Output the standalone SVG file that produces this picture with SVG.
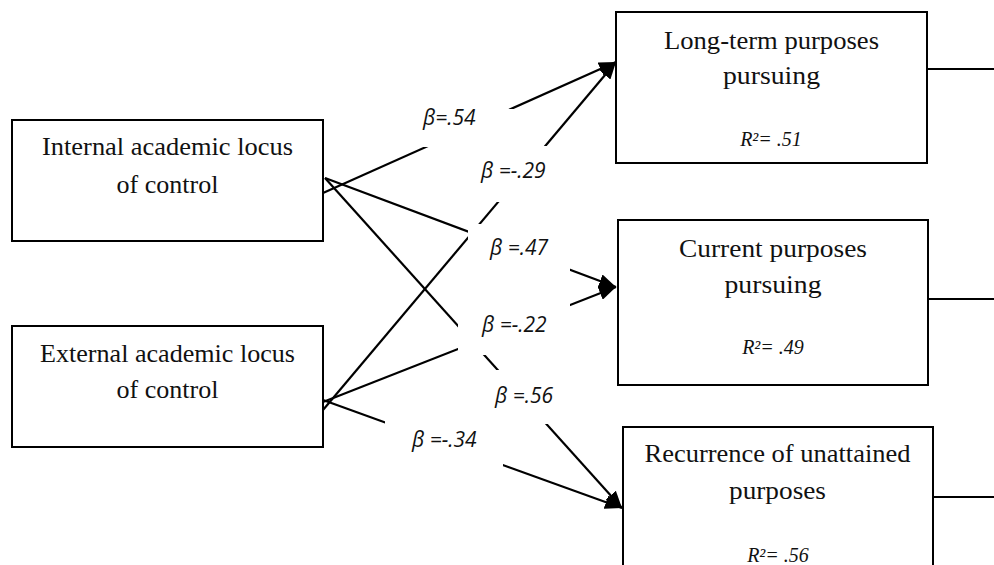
<svg xmlns="http://www.w3.org/2000/svg" width="994" height="565" viewBox="0 0 994 565">
<defs>
<marker id="arr" markerUnits="userSpaceOnUse" markerWidth="18" markerHeight="14" refX="17" refY="7" orient="auto">
<path d="M0,0 L17,7 L0,14 Z" fill="#000"/>
</marker>
<style>
.box{fill:#fff;stroke:#000;stroke-width:2}
.t{font-family:"Liberation Serif","Times New Roman",serif;font-size:25.5px;fill:#111;text-anchor:middle}
.r{font-family:"Liberation Serif","Times New Roman",serif;font-size:20px;font-style:italic;fill:#111;text-anchor:middle}
.c{stroke:#000;stroke-width:2.2;fill:none}
.a{marker-end:url(#arr)}
.lb{fill:#fff;stroke:none}
.b{font-family:"Open Sans","Noto Sans",sans-serif;font-size:21px;font-style:italic;fill:#111}
</style>
</defs>
<rect width="994" height="565" fill="#fff"/>

<g id="connectors">
<line class="c a" x1="323" y1="193" x2="616" y2="62"/>
<line class="c a" x1="323" y1="410" x2="616" y2="62"/>
<line class="c a" x1="325" y1="178" x2="616" y2="287"/>
<line class="c a" x1="323" y1="402" x2="616" y2="287"/>
<line class="c a" x1="325" y1="178" x2="622" y2="508"/>
<line class="c a" x1="323" y1="400" x2="622" y2="508"/>
<line class="c" x1="927" y1="69" x2="994" y2="69"/>
<line class="c" x1="928" y1="299" x2="994" y2="299"/>
<line class="c" x1="933" y1="497" x2="994" y2="497"/>
</g>

<g id="labels">
<g id="label-b54"><rect class="lb" x="410" y="109" width="110" height="38"/><text class="b" x="423" y="125">β=.54</text></g>
<g id="label-b29"><rect class="lb" x="470" y="146" width="90" height="56"/><text class="b" x="481" y="178">β =-.29</text></g>
<g id="label-b47"><rect class="lb" x="468" y="224" width="102" height="48"/><text class="b" x="490" y="255">β =.47</text></g>
<g id="label-b22"><rect class="lb" x="458" y="300" width="112" height="55"/><text class="b" x="482" y="332">β =-.22</text></g>
<g id="label-b56"><rect class="lb" x="485" y="370" width="115" height="54"/><text class="b" x="495" y="403">β =.56</text></g>
<g id="label-b34"><rect class="lb" x="385" y="420" width="118" height="48"/><text class="b" x="412" y="447">β =-.34</text></g>
</g>

<g id="internal">
<rect class="box" x="12" y="120" width="311" height="121"/>
<text class="t" x="167.5" y="155" textLength="251" lengthAdjust="spacingAndGlyphs">Internal academic locus</text>
<text class="t" x="167.5" y="193" textLength="102" lengthAdjust="spacingAndGlyphs">of control</text>
</g>

<g id="external">
<rect class="box" x="12" y="326" width="311" height="121"/>
<text class="t" x="167.5" y="362" textLength="255" lengthAdjust="spacingAndGlyphs">External academic locus</text>
<text class="t" x="167.5" y="398" textLength="102" lengthAdjust="spacingAndGlyphs">of control</text>
</g>

<g id="longterm">
<rect class="box" x="616" y="12" width="311" height="151"/>
<text class="t" x="771.5" y="49" textLength="215" lengthAdjust="spacingAndGlyphs">Long-term purposes</text>
<text class="t" x="771.5" y="84" textLength="97" lengthAdjust="spacingAndGlyphs">pursuing</text>
<text class="r" x="771" y="146">R²= .51</text>
</g>

<g id="current">
<rect class="box" x="618" y="220" width="310" height="165"/>
<text class="t" x="773" y="257" textLength="188" lengthAdjust="spacingAndGlyphs">Current purposes</text>
<text class="t" x="773" y="293" textLength="97" lengthAdjust="spacingAndGlyphs">pursuing</text>
<text class="r" x="773" y="354">R²= .49</text>
</g>

<g id="recurrence">
<rect class="box" x="623" y="427" width="310" height="160"/>
<text class="t" x="777.5" y="462" textLength="266" lengthAdjust="spacingAndGlyphs">Recurrence of unattained</text>
<text class="t" x="777.5" y="499" textLength="97" lengthAdjust="spacingAndGlyphs">purposes</text>
<text class="r" x="778" y="562">R²= .56</text>
</g>
</svg>
